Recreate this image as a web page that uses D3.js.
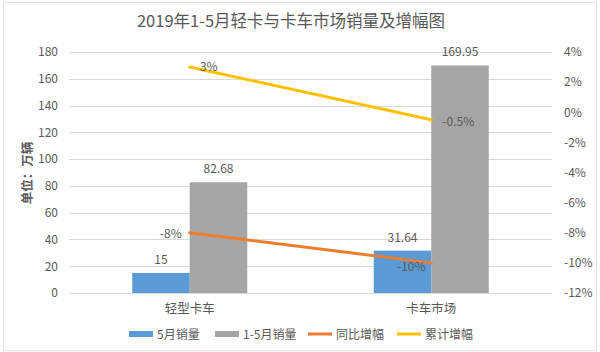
<!DOCTYPE html>
<html>
<head>
<meta charset="utf-8">
<script src="https://cdn.jsdelivr.net/npm/d3@7"></script>
<style>
  body { margin: 0; background: #fff; }
  text { font-family: "Noto Sans CJK SC", "Noto Sans", sans-serif; fill: #595959; }
</style>
</head>
<body>
<div id="chart"></div>
<script>
var categories = ["轻型卡车", "卡车市场"];
var maySales = [15, 31.64];
var ytdSales = [82.68, 169.95];
var yoyGrowth = [-8, -10];
var ytdGrowth = [3, -0.5];
var leftTicks = [0, 20, 40, 60, 80, 100, 120, 140, 160, 180];
var rightTicks = [4, 2, 0, -2, -4, -6, -8, -10, -12];

var W = 600, H = 352;
var margin = { top: 52, right: 48, bottom: 59, left: 69 },
  width = W - margin.left - margin.right,
  height = H - margin.top - margin.bottom;

var root = d3.select("#chart")
  .append("svg")
  .attr("width", W)
  .attr("height", H);

// faint chart border
root.append("rect")
  .attr("x", 3.5).attr("y", 2.5)
  .attr("width", W - 7).attr("height", H - 4)
  .attr("fill", "none")
  .attr("stroke", "#e3e3e3");

root.append("text")
  .attr("x", 291)
  .attr("y", 27)
  .attr("text-anchor", "middle")
  .style("font-size", "16.5px")
  .text("2019年1-5月轻卡与卡车市场销量及增幅图");

var svg = root.append("g")
  .attr("transform", "translate(" + margin.left + "," + margin.top + ")");

var x = d3.scaleBand()
  .domain(categories)
  .range([0, width]);

var x1 = d3.scaleBand()
  .domain(["may", "ytd"])
  .range([x.bandwidth() / 2 - 57.5, x.bandwidth() / 2 + 57.5]);

var y = d3.scaleLinear().domain([0, 180]).range([height, 0]);
var y2 = d3.scaleLinear().domain([-12, 4]).range([height, 0]);

// gridlines
svg.append("g").selectAll("line")
  .data(leftTicks)
  .enter().append("line")
  .attr("x1", 0).attr("x2", width)
  .attr("y1", function (d) { return Math.round(y(d)) + 0.5; })
  .attr("y2", function (d) { return Math.round(y(d)) + 0.5; })
  .attr("stroke", "#d9d9d9");

var yAxis = svg.append("g")
  .call(d3.axisLeft(y).tickValues(leftTicks).tickSize(0).tickPadding(11));
yAxis.select(".domain").remove();
yAxis.selectAll("text").style("font-size", "12px").attr("fill", "#595959");

var y2Axis = svg.append("g")
  .attr("transform", "translate(" + width + ",0)")
  .call(d3.axisRight(y2).tickValues(rightTicks).tickSize(0).tickPadding(12)
    .tickFormat(function (d) { return d + "%"; }));
y2Axis.select(".domain").remove();
y2Axis.selectAll("text").style("font-size", "12px").attr("fill", "#595959");

var xAxis = svg.append("g")
  .attr("transform", "translate(0," + height + ")")
  .call(d3.axisBottom(x).tickSize(0).tickPadding(11));
xAxis.select(".domain").attr("stroke", "#d9d9d9");
xAxis.selectAll("text").style("font-size", "12.5px").attr("fill", "#595959");

// bars
var groups = svg.append("g").selectAll("g")
  .data(categories)
  .enter().append("g")
  .attr("transform", function (d) { return "translate(" + x(d) + ",0)"; });

groups.append("rect")
  .attr("x", x1("may"))
  .attr("width", x1.bandwidth())
  .attr("y", function (d, i) { return y(maySales[i]); })
  .attr("height", function (d, i) { return height - y(maySales[i]); })
  .attr("fill", "#5b9bd5");

groups.append("rect")
  .attr("x", x1("ytd"))
  .attr("width", x1.bandwidth())
  .attr("y", function (d, i) { return y(ytdSales[i]); })
  .attr("height", function (d, i) { return height - y(ytdSales[i]); })
  .attr("fill", "#a5a5a5");

groups.append("text")
  .attr("x", x1("may") + x1.bandwidth() / 2)
  .attr("y", function (d, i) { return y(maySales[i]) - 9; })
  .attr("text-anchor", "middle")
  .style("font-size", "12px")
  .text(function (d, i) { return maySales[i]; });

groups.append("text")
  .attr("x", x1("ytd") + x1.bandwidth() / 2)
  .attr("y", function (d, i) { return y(ytdSales[i]) - 9; })
  .attr("text-anchor", "middle")
  .style("font-size", "12px")
  .text(function (d, i) { return ytdSales[i]; });

// lines
var cx = function (i) { return x(categories[i]) + x.bandwidth() / 2; };
var line = d3.line()
  .x(function (d, i) { return cx(i); })
  .y(function (d) { return y2(d); });

svg.append("path")
  .datum(yoyGrowth)
  .attr("d", line)
  .attr("fill", "none")
  .attr("stroke", "#ed7d31")
  .attr("stroke-width", 3)
  .attr("stroke-linecap", "round");

svg.append("path")
  .datum(ytdGrowth)
  .attr("d", line)
  .attr("fill", "none")
  .attr("stroke", "#ffc000")
  .attr("stroke-width", 3)
  .attr("stroke-linecap", "round");

// line labels
var yoyLabelPos = [{ dx: -8, dy: 5, anchor: "end" }, { dx: -20, dy: 8, anchor: "middle" }];
var ytdLabelPos = [{ dx: 19, dy: 4, anchor: "middle" }, { dx: 27, dy: 6, anchor: "middle" }];

svg.append("g").selectAll("text")
  .data(yoyGrowth)
  .enter().append("text")
  .attr("x", function (d, i) { return cx(i) + yoyLabelPos[i].dx; })
  .attr("y", function (d, i) { return y2(d) + yoyLabelPos[i].dy; })
  .attr("text-anchor", function (d, i) { return yoyLabelPos[i].anchor; })
  .style("font-size", "12px")
  .text(function (d) { return d + "%"; });

svg.append("g").selectAll("text")
  .data(ytdGrowth)
  .enter().append("text")
  .attr("x", function (d, i) { return cx(i) + ytdLabelPos[i].dx; })
  .attr("y", function (d, i) { return y2(d) + ytdLabelPos[i].dy; })
  .attr("text-anchor", function (d, i) { return ytdLabelPos[i].anchor; })
  .style("font-size", "12px")
  .text(function (d) { return d + "%"; });

// y axis title
root.append("text")
  .attr("transform", "translate(32,173) rotate(-90)")
  .attr("text-anchor", "middle")
  .style("font-size", "12.5px")
  .style("font-weight", "bold")
  .attr("fill", "#595959")
  .text("单位：万辆");

// legend
var legendItems = [
  { name: "5月销量", color: "#5b9bd5", type: "bar", x: 129 },
  { name: "1-5月销量", color: "#a5a5a5", type: "bar", x: 215 },
  { name: "同比增幅", color: "#ed7d31", type: "line", x: 308 },
  { name: "累计增幅", color: "#ffc000", type: "line", x: 397 }
];
var legend = root.append("g").selectAll("g")
  .data(legendItems)
  .enter().append("g")
  .attr("transform", function (d) { return "translate(" + d.x + ",334)"; });

legend.append("rect")
  .attr("x", 0)
  .attr("y", function (d) { return d.type === "bar" ? -3 : -1.5; })
  .attr("width", 24)
  .attr("height", function (d) { return d.type === "bar" ? 6 : 3; })
  .attr("fill", function (d) { return d.color; });

legend.append("text")
  .attr("x", 28)
  .attr("y", 4.5)
  .style("font-size", "12px")
  .text(function (d) { return d.name; });
</script>
</body>
</html>
